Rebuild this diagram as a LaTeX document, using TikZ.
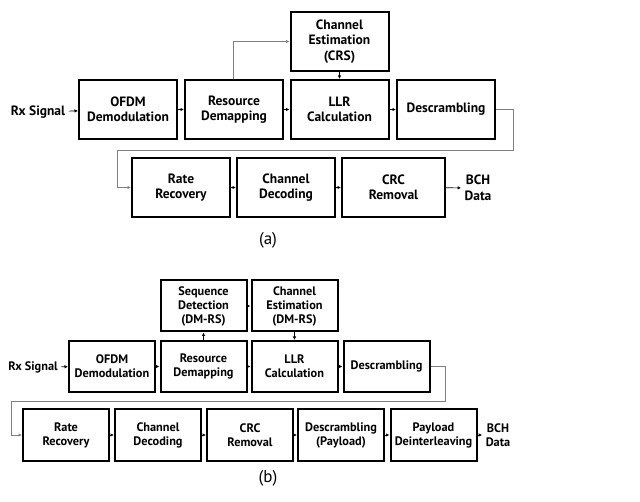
\documentclass[tikz,border=0pt]{standalone}
\usepackage{fontspec}
\setmainfont{PT Sans}
\usetikzlibrary{arrows.meta}

\begin{document}
\begin{tikzpicture}[x=1pt,y=-1pt]

      \useasboundingbox (0,0) rectangle (640,502);

      % (a)
      \begin{scope}[every node/.style={rectangle,draw,line width=2pt,align=center,
          font=\bfseries\fontsize{13.5}{15.5}\selectfont,minimum width=98pt,minimum height=59pt,
          inner sep=1pt}]
        \node (1) at (128,109.5)   {OFDM\\Demodulation};
        \node (2) at (234,109.5)   {Resource\\Demapping};
        \node (3) at (339.5,109.5) {LLR\\Calculation};
        \node (4) at (446,109.5)   {Descrambling};
        \node (5) at (339.5,41.5)  {Channel\\Estimation\\(CRS)};
        \node (6) at (181,187.5)   {Rate\\Recovery};
        \node (7) at (286,187.5)   {Channel\\Decoding};
        \node[minimum width=103pt] (8) at (393.5,187.5) {CRC\\Removal};
      \end{scope}
      \begin{scope}[every node/.style={align=center,font=\bfseries\fontsize{13.5}{15.5}\selectfont}]
        \node (0) at (38,112)  {Rx Signal};
        \node (9) at (478,188) {BCH\\Data};
      \end{scope}
      \node[font=\fontsize{17}{19}\selectfont] (ca) at (268,240) {(a)};

      \coordinate (t1) at (513,109.5);
      \coordinate (t2) at (513,150);
      \coordinate (t3) at (117,150);
      \coordinate (t4) at (117,187.5);

      % (b)
      \begin{scope}[every node/.style={rectangle,draw,line width=2pt,align=center,
          font=\bfseries\fontsize{12.3}{14}\selectfont,minimum width=86pt,minimum height=51pt,
          inner sep=1pt}]
        \node (11) at (112,366.5)   {OFDM\\Demodulation};
        \node (12) at (203.5,366.5) {Resource\\Demapping};
        \node (13) at (294.5,366.5) {LLR\\Calculation};
        \node (14) at (386.5,366.5) {Descrambling};
        \node (15) at (203.5,306)   {Sequence\\Detection\\(DM-RS)};
        \node (16) at (294.5,306)   {Channel\\Estimation\\(DM-RS)};
        \node (17) at (66,435)      {Rate\\Recovery};
        \node (18) at (158,435)     {Channel\\Decoding};
        \node (19) at (250,435)     {CRC\\Removal};
        \node (20) at (341,435)     {Descrambling\\(Payload)};
        \node (21) at (433.5,435)   {Payload\\Deinterleaving};
      \end{scope}
      \begin{scope}[every node/.style={align=center,font=\bfseries\fontsize{12.3}{14}\selectfont}]
        \node (10) at (33,367)  {Rx Signal};
        \node (22) at (498,435) {BCH\\Data};
      \end{scope}
      \node[font=\fontsize{17}{19}\selectfont] (cb) at (268,478) {(b)};

      \coordinate (u1) at (445,366.5);
      \coordinate (u2) at (445,401);
      \coordinate (u3) at (11,401);
      \coordinate (u4) at (11,435);

      \begin{scope}[every edge/.style={draw,line width=0.7pt,-{Latex[length=3.5pt,width=3.5pt]}}]
        \path (0) edge (1);
        \path (1) edge (2);
        \path (2) edge (3);
        \path (3) edge (4);
        \path (5) edge (3);
        \path (6) edge (7);
        \path (7) edge (8);
        \path (8) edge (9);
        \path (10) edge (11);
        \path (11) edge (12);
        \path (12) edge (13);
        \path (13) edge (14);
        \path (12) edge (15);
        \path (15) edge (16);
        \path (16) edge (13);
        \path (17) edge (18);
        \path (18) edge (19);
        \path (19) edge (20);
        \path (20) edge (21);
        \path (21) edge (22);
      \end{scope}

      \begin{scope}[gray,line width=0.7pt]
        \draw[-{Latex[length=3.5pt,width=3.5pt]}] (2.north -| 233,0) |- (5.west);
        \draw[-{Latex[length=3.5pt,width=3.5pt]}] (4.east) -- (t1) -- (t2) -- (t3) -- (t4) -- (6.west);
        \draw[-{Latex[length=3.5pt,width=3.5pt]}] (14.east) -- (u1) -- (u2) -- (u3) -- (u4) -- (17.west);
      \end{scope}

    \end{tikzpicture}
\end{document}
